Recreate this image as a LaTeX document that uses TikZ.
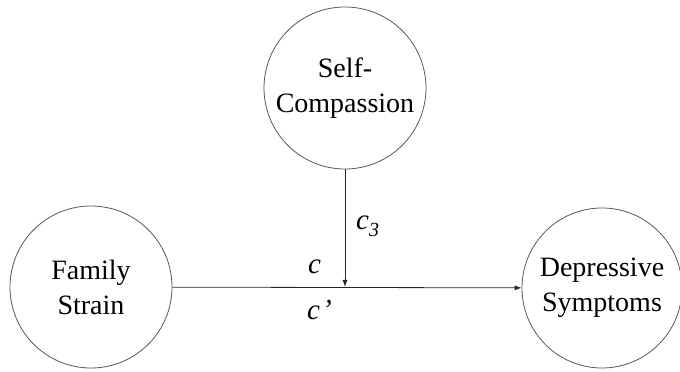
\documentclass[tikz,border=0pt]{standalone}
\usepackage{fontspec}
\newfontfamily\libser{Liberation Serif}
\usetikzlibrary{arrows.meta}
\begin{document}
\begin{tikzpicture}[x=1pt,y=1pt,
  var/.style={circle, draw=black!65, line width=0.8pt, minimum size=162pt, inner sep=0pt,
    align=center, font=\fontsize{28}{35}\libser},
  path/.style={draw=black!85, line width=0.8pt, -{Latex[length=7pt,width=5pt]}},
  lab/.style={anchor=base west, inner sep=0pt, font=\fontsize{29}{30}\libser\itshape}]
\useasboundingbox (0,0) rectangle (680,372);
\node[var] (sc) at (345,284) {Self-\\Compassion};
\node[var] (fs) at (91,85) {Family\\Strain};
\node[var, minimum size=160pt] (ds) at (602,84) {Depressive\\Symptoms};
\coordinate (m) at (345,85);
\draw[path] (fs) -- (ds);
\draw[path] (sc) -- (m);
\node[lab] (lc) at (308,98) {c};
\node[lab] (lcp) at (307,52) {c\hspace{2pt}’};
\node[lab] (lc3) at (356,142) {c\raisebox{-7pt}{\fontsize{20}{20}\selectfont 3}};
\end{tikzpicture}
\end{document}
